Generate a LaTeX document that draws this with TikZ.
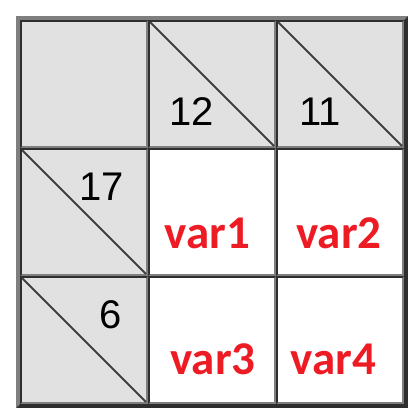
\documentclass[tikz,border=0pt]{standalone}
\usepackage{fontspec}
\setmainfont{Liberation Sans}
\newfontfamily\varfont{Carlito}
\definecolor{cellgray}{HTML}{E1E1E1}
\definecolor{bevlight}{HTML}{7F7F7F}
\definecolor{bevdark}{HTML}{2E2E2E}
\definecolor{diagcol}{HTML}{404040}
\definecolor{varred}{HTML}{ED1C24}
\tikzset{
  sumtext/.style={anchor=base, inner sep=0pt, font=\fontsize{40}{40}\selectfont, text=black},
  vartext/.style={anchor=base, inner sep=0pt, font=\varfont\bfseries\fontsize{47}{47}\selectfont, text=varred},
  diagline/.style={draw=diagcol, line width=1.8pt}
}
% cell: x0, y0, fill colour
\newcommand{\kcell}[3]{%
  \fill[bevlight] (#1,#2) rectangle ++(128,128);
  \fill[bevdark] (#1,#2) -- ++(128,0) -- ++(-2,2) -- ++(-124,0) -- ++(0,124) -- ++(-2,2) -- cycle;
  \fill[#3] (#1+2,#2+2) rectangle ++(124,124);
}
\begin{document}
\begin{tikzpicture}[x=1pt,y=-1pt]
\useasboundingbox (0,0) rectangle (416,416);
\fill[white] (0,0) rectangle (416,416);
% outer frame
\fill[bevdark] (16,16) rectangle (408,408);
\fill[bevlight] (16,16) -- (408,16) -- (404,20) -- (20,20) -- (20,404) -- (16,408) -- cycle;
% cells
\kcell{20}{20}{cellgray}
\kcell{148}{20}{cellgray}
\kcell{276}{20}{cellgray}
\kcell{20}{148}{cellgray}
\kcell{148}{148}{white}
\kcell{276}{148}{white}
\kcell{20}{276}{cellgray}
\kcell{148}{276}{white}
\kcell{276}{276}{white}
% diagonals
\coordinate (d1a) at (150,22); \coordinate (d1b) at (274,146);
\coordinate (d2a) at (278,22); \coordinate (d2b) at (402,146);
\coordinate (d3a) at (22,150); \coordinate (d3b) at (146,274);
\coordinate (d4a) at (22,278); \coordinate (d4b) at (146,402);
\draw[diagline] (d1a) -- (d1b);
\draw[diagline] (d2a) -- (d2b);
\draw[diagline] (d3a) -- (d3b);
\draw[diagline] (d4a) -- (d4b);
% sums
\node[sumtext] (s12) at (192,125) {12};
\node[sumtext] (s11) at (320,125) {11};
\node[sumtext] (s17) at (102,200) {17};
\node[sumtext] (s6) at (111,328) {6};
% variables
\node[vartext] (v1) at (207.5,248) {var1};
\node[vartext] (v2) at (339,248) {var2};
\node[vartext] (v3) at (213,374) {var3};
\node[vartext] (v4) at (333.5,374) {var4};
\end{tikzpicture}
\end{document}
